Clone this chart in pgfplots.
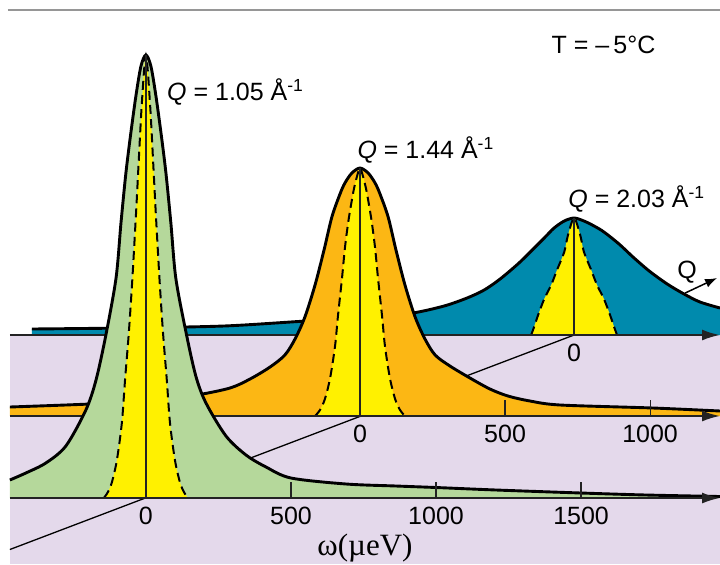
\documentclass[border=0pt]{standalone}
\usepackage{pgfplots}
\pgfplotsset{compat=1.18}
\usepackage{pgfplotstable}
\usepackage{fontspec}
\setmainfont{Liberation Sans}
\newfontfamily\seriffont{Liberation Serif}
\usetikzlibrary{arrows.meta}

\definecolor{lav}{RGB}{228,217,235}
\definecolor{leaf}{RGB}{181,216,155}
\definecolor{amber}{RGB}{252,183,20}
\definecolor{petrol}{RGB}{0,138,173}
\definecolor{lemon}{RGB}{255,241,0}
\definecolor{rule}{RGB}{150,150,150}
\definecolor{axisdark}{RGB}{35,35,35}

% Spectra in local coordinates: w = energy transfer (micro-eV), I = intensity (arb. units)
% Q = 1.05 1/A : quasielastic line and resolution
\pgfplotstableread{
w I
-469 18
-414 25
-345 35
-276 52
-207 88
-172 118
-138 163
-103 220
-86 275
-69 325
-52 365
-34 403
-17 432
0 443
17 432
34 403
52 365
69 325
86 275
103 220
138 166
172 122
207 95
276 62
345 43
414 31
500 20
690 14
862 12
1000 10.5
1207 8
1500 5
1724 3
1979 1.5
}\qonewide
\pgfplotstableread{
w I
-145 0
-131 6
-117 16
-100 38
-83 75
-72 118
-59 165
-47 218
-34 285
-26 330
-14 395
0 443
14 395
26 330
34 285
47 218
59 165
72 118
83 75
100 38
117 16
131 6
145 0
}\qonenarrow
% Q = 1.44 1/A
\pgfplotstableread{
w I
-1207 9
-931 12
-690 16
-562 21
-448 28
-379 37
-310 49
-259 61
-224 77
-190 99
-155 131
-124 166
-97 199
-69 222
-52 233
-28 243
0 248
28 243
52 233
69 222
97 199
124 166
155 131
190 99
224 77
259 61
310 50
379 38
448 27
510 20
586 15
690 11
1010 8
1241 5
}\qtwowide
\pgfplotstableread{
w I
-155 0
-138 6
-121 17
-103 38
-86 70
-76 100
-62 138
-52 168
-41 193
-31 211
-21 227
-10 240
0 248
10 240
21 227
31 211
41 193
52 168
62 138
76 100
86 70
103 38
121 17
138 6
155 0
}\qtwonarrow
% Q = 2.03 1/A
\pgfplotstableread{
w I
-1869 6
-1552 7
-1207 9
-921 14
-690 17
-555 22
-448 29
-369 37
-310 45
-255 56
-190 72
-141 86
-103 97
-69 107
-34 114
0 117
34 114
69 109
103 103
155 91
203 78
259 64
321 51
379 41
434 33
503 27
}\qthreewide
\pgfplotstableread{
w I
-148 0
-138 8
-124 20
-103 36
-79 50
-59 65
-34 83
-21 100
0 117
21 100
34 83
59 65
79 50
103 36
124 20
138 8
148 0
}\qthreenarrow

\newcommand{\lab}{\fontsize{12.5}{15}\selectfont}

\begin{document}
\begin{tikzpicture}
\begin{axis}[
  width=360pt, height=282pt, scale only axis,
  xmin=-503, xmax=1979, ymin=-66, ymax=498,
  axis lines=none, clip=false, no markers,
  curve/.style={smooth, tension=0.5},
  outline/.style={curve, black, line width=1.45pt},
  resol/.style={curve, black, line width=1pt, dash pattern=on 4.5pt off 2.6pt},
  centre/.style={axisdark, line width=0.6pt},
  base/.style={axisdark, line width=1pt, -{Latex[length=9pt,width=5.5pt]}},
  tick/.style={axisdark, line width=0.6pt},
]
% rule at the top
\addplot[rule, line width=0.8pt] coordinates {(-476,488) (1979,488)};
% floor under the spectra
\addplot[fill=lav, draw=none] coordinates {(-469,-66) (1979,-66) (1979,163) (-469,163)} -- cycle;
% Q axis
\addplot[black, line width=0.65pt] coordinates {(-469,-51.5) (1476,163)};

% ---- back row: Q = 2.03 ----
\addplot[curve, fill=petrol, draw=none] table[x expr=\thisrow{w}+1476, y expr=\thisrow{I}+163] {\qthreewide}
  -- (axis cs:1979,163) -- (axis cs:-393,163) -- cycle;
\addplot[curve, fill=lemon, draw=none] table[x expr=\thisrow{w}+1476, y expr=\thisrow{I}+163] {\qthreenarrow} -- cycle;
\addplot[resol] table[x expr=\thisrow{w}+1476, y expr=\thisrow{I}+163] {\qthreenarrow};
\addplot[outline] table[x expr=\thisrow{w}+1476, y expr=\thisrow{I}+163] {\qthreewide};
\addplot[centre] coordinates {(1476,163) (1476,280)};
\addplot[base] coordinates {(-469,163) (1979,163)};
\node[font=\lab, anchor=base] at (axis cs:1476,137) {0};

% ---- middle row: Q = 1.44 ----
\addplot[curve, fill=amber, draw=none] table[x expr=\thisrow{w}+738, y expr=\thisrow{I}+82] {\qtwowide}
  -- (axis cs:1979,82) -- (axis cs:-469,82) -- cycle;
\addplot[curve, fill=lemon, draw=none] table[x expr=\thisrow{w}+738, y expr=\thisrow{I}+82] {\qtwonarrow} -- cycle;
\addplot[resol] table[x expr=\thisrow{w}+738, y expr=\thisrow{I}+82] {\qtwonarrow};
\addplot[outline] table[x expr=\thisrow{w}+738, y expr=\thisrow{I}+82] {\qtwowide};
\addplot[centre] coordinates {(738,82) (738,330)};
\addplot[tick] coordinates {(1238,82) (1238,98)};
\addplot[tick] coordinates {(1738,82) (1738,98)};
\addplot[base] coordinates {(-469,82) (1979,82)};
\node[font=\lab, anchor=base] at (axis cs:738,56) {0};
\node[font=\lab, anchor=base] at (axis cs:1238,56) {500};
\node[font=\lab, anchor=base] at (axis cs:1738,56) {1000};

% ---- front row: Q = 1.05 ----
\addplot[curve, fill=leaf, draw=none] table[x expr=\thisrow{w}, y expr=\thisrow{I}] {\qonewide}
  -- (axis cs:1979,0) -- (axis cs:-469,0) -- cycle;
\addplot[curve, fill=lemon, draw=none] table[x expr=\thisrow{w}, y expr=\thisrow{I}] {\qonenarrow} -- cycle;
\addplot[resol] table[x expr=\thisrow{w}, y expr=\thisrow{I}] {\qonenarrow};
\addplot[outline] table[x expr=\thisrow{w}, y expr=\thisrow{I}] {\qonewide};
\addplot[centre] coordinates {(0,0) (0,443)};
\addplot[tick] coordinates {(500,0) (500,16)};
\addplot[tick] coordinates {(1000,0) (1000,16)};
\addplot[tick] coordinates {(1500,0) (1500,16)};
\addplot[base] coordinates {(-469,0) (1979,0)};
\node[font=\lab, anchor=base] at (axis cs:0,-26) {0};
\node[font=\lab, anchor=base] at (axis cs:500,-26) {500};
\node[font=\lab, anchor=base] at (axis cs:1000,-26) {1000};
\node[font=\lab, anchor=base] at (axis cs:1500,-26) {1500};

% labels
\node[font=\lab, anchor=base west, inner sep=0pt] at (axis cs:72,398) {\textit{Q} = 1.05 Å\textsuperscript{-1}};
\node[font=\lab, anchor=base west, inner sep=0pt] at (axis cs:728,340) {\textit{Q} = 1.44 Å\textsuperscript{-1}};
\node[font=\lab, anchor=base west, inner sep=0pt] at (axis cs:1455,291) {\textit{Q} = 2.03 Å\textsuperscript{-1}};
\node[font=\lab, anchor=base west, inner sep=0pt] at (axis cs:1397,445) {T = –\,5°C};
\node[font=\lab, anchor=base west, inner sep=0pt] at (axis cs:1831,220) {Q};
\addplot[black, line width=0.75pt, -{Latex[length=6pt,width=4.5pt]}] coordinates {(1859,205) (1969,220)};
\node[font={\seriffont\fontsize{15.5}{18}\selectfont}, anchor=base west, inner sep=0pt] at (axis cs:590,-57) {ω(µeV)};
\end{axis}
\pgfresetboundingbox
\path (current axis.south west) rectangle (current axis.north east);
\end{tikzpicture}
\end{document}
